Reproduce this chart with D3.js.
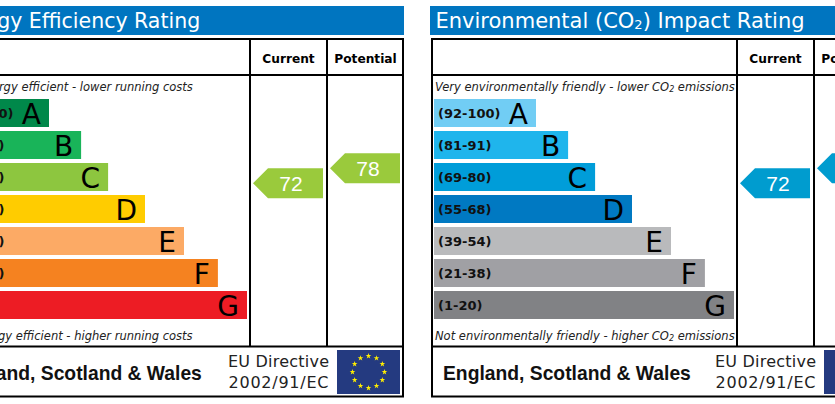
<!DOCTYPE html>
<html>
<head>
<meta charset="utf-8">
<script src="https://cdn.jsdelivr.net/npm/d3@7"></script>
<style>
    html, body { margin: 0; padding: 0; background: #fff; overflow: hidden; }
    svg { display: block; }
    text { font-family: "DejaVu Sans", Verdana, sans-serif; }
    .arial { font-family: "Liberation Sans", Arial, sans-serif; }
</style>
</head>
<body>
<script>
var bands = ["A", "B", "C", "D", "E", "F", "G"];
var ranges = ["(92-100)", "(81-91)", "(69-80)", "(55-68)", "(39-54)", "(21-38)", "(1-20)"];
var barLengths = [34, 44.7, 53.7, 66, 79, 90.3, 100];
var energyColors = ["#00884a", "#19b459", "#8dc63f", "#ffcc00", "#fcaa65", "#f58220", "#ed1c24"];
var co2Colors = ["#71cdf4", "#1fb5ec", "#009dd9", "#0079c2", "#b9babc", "#a0a0a4", "#818285"];
var columns = ["Current", "Potential"];
var energyScores = [72, 78];
var co2Scores = [72, 78];
var starIndex = [0, 1, 2, 3, 4, 5, 6, 7, 8, 9, 10, 11];

var svg = d3.select("body").append("svg")
    .attr("width", 835)
    .attr("height", 404);

var x = d3.scaleLinear().domain([0, 100]).range([3, 303]);
var y = d3.scaleBand().domain(bands).range([99, 319]).paddingInner(0.125);
var scoreY = d3.scaleLinear().domain([72, 78]).range([183.3, 168.3]);
var columnX = d3.scaleBand().domain(columns).range([306, 460]);

drawPanel(-56, {
    title: [["Energy Efficiency Rating"]],
    titleX: 6.5,
    titleSize: 20.5,
    footerX: 10,
    top: [["Very energy efficient - lower running costs"]],
    bottom: [["Not energy efficient - higher running costs"]],
    colors: energyColors,
    scores: energyScores,
    scoreColors: ["#9aca3c", "#9aca3c"]
});

drawPanel(431, {
    title: [["Environmental (CO"], ["2", "sub"], [") Impact Rating"]],
    titleX: 4.5,
    titleSize: 21,
    footerX: 12,
    top: [["Very environmentally friendly - lower CO"], ["2", "sub"], [" emissions"]],
    bottom: [["Not environmentally friendly - higher CO"], ["2", "sub"], [" emissions"]],
    colors: co2Colors,
    scores: co2Scores,
    scoreColors: ["#009ccf", "#009ccf"]
});

function addRuns(sel, runs, small) {
    runs.forEach(function(r) {
        var t = sel.append("tspan").text(r[0]);
        if (r[1] == "sub") t.style("font-size", small + "px").attr("dy", 1);
        else if (sel.selectAll("tspan").size() > 1) t.attr("dy", -1);
    });
}

function drawPanel(left, p) {
    var g = svg.append("g").attr("transform", "translate(" + left + ",0)");

    g.append("rect").attr("x", -1).attr("y", 6).attr("width", 461).attr("height", 29).attr("fill", "#0075c0");
    var title = g.append("text").attr("x", p.titleX).attr("y", 28)
        .attr("fill", "#fff").style("font-size", p.titleSize + "px");
    addRuns(title, p.title, 13);

    // table frame
    var line = g.append("g").attr("stroke", "#000").attr("stroke-width", 2).attr("fill", "none");
    line.append("rect").attr("x", 1).attr("y", 39).attr("width", 458).attr("height", 357.5);
    line.append("line").attr("x1", 1).attr("x2", 459).attr("y1", 75).attr("y2", 75);
    line.append("line").attr("x1", 1).attr("x2", 459).attr("y1", 346.5).attr("y2", 346.5);
    columns.forEach(function(c) {
        line.append("line").attr("x1", columnX(c)).attr("x2", columnX(c)).attr("y1", 39).attr("y2", 346.5);
    });

    g.selectAll(".head").data(columns).enter().append("text")
        .attr("x", function(d) { return columnX(d) + columnX.bandwidth() / 2; })
        .attr("y", 63)
        .attr("text-anchor", "middle")
        .style("font-size", "12.2px").style("font-weight", "bold")
        .text(function(d) { return d; });

    var top = g.append("text").attr("x", 4).attr("y", 91).attr("fill", "#222")
        .style("font-size", "11.5px").style("font-style", "italic");
    addRuns(top, p.top, 8);
    var bottom = g.append("text").attr("x", 4).attr("y", 340).attr("fill", "#222")
        .style("font-size", "11.5px").style("font-style", "italic");
    addRuns(bottom, p.bottom, 8);

    // rating bands
    var row = g.selectAll(".band").data(bands).enter().append("g");
    row.append("rect")
        .attr("x", x(0))
        .attr("y", function(d) { return y(d); })
        .attr("width", function(d, i) { return x(barLengths[i]) - x(0); })
        .attr("height", y.bandwidth())
        .attr("fill", function(d, i) { return p.colors[i]; });
    row.append("text")
        .attr("x", x(0) + 4)
        .attr("y", function(d) { return y(d) + 19; })
        .attr("fill", "#111")
        .style("font-size", "13px").style("font-weight", "bold")
        .text(function(d, i) { return ranges[i]; });
    row.append("text")
        .attr("x", function(d, i) { return x(barLengths[i]) - 8; })
        .attr("y", function(d) { return y(d) + 25; })
        .attr("text-anchor", "end")
        .attr("fill", "#000")
        .style("font-size", "28px")
        .text(function(d) { return d; });

    // score arrows
    var arrowLine = d3.line();
    var arrow = g.selectAll(".score").data(p.scores).enter().append("g");
    arrow.append("path")
        .attr("d", function(d, i) {
            var x0 = columnX(columns[i]) + 3, x1 = x0 + 70, cy = scoreY(d), h = 15;
            return arrowLine([[x0, cy], [x0 + 15, cy - h], [x1, cy - h], [x1, cy + h], [x0 + 15, cy + h]]) + "Z";
        })
        .attr("fill", function(d, i) { return p.scoreColors[i]; });
    arrow.append("text")
        .attr("class", "arial")
        .attr("x", function(d, i) { return columnX(columns[i]) + 41; })
        .attr("y", function(d) { return scoreY(d) + 7.5; })
        .attr("text-anchor", "middle")
        .attr("fill", "#fff")
        .style("font-size", "21px")
        .text(function(d) { return d; });

    // footer
    g.append("text").attr("class", "arial").attr("x", p.footerX).attr("y", 380)
        .attr("fill", "#111")
        .style("font-size", "19.3px").style("font-weight", "bold")
        .text("England, Scotland & Wales");
    g.append("text").attr("x", 334.5).attr("y", 367).attr("text-anchor", "middle")
        .attr("textLength", 101).attr("fill", "#222").style("font-size", "16px").text("EU Directive");
    g.append("text").attr("x", 334.5).attr("y", 388).attr("text-anchor", "middle")
        .attr("textLength", 100).attr("fill", "#222").style("font-size", "16px").text("2002/91/EC");

    // flag
    var flagX = 393, flagY = 350, flagW = 63, flagH = 44;
    g.append("rect").attr("x", flagX).attr("y", flagY).attr("width", flagW).attr("height", flagH).attr("fill", "#243a80");
    var star = d3.symbol().type(d3.symbolStar).size(10);
    var angle = d3.scaleLinear().domain([0, 12]).range([0, 2 * Math.PI]);
    g.selectAll(".star").data(starIndex).enter().append("path")
        .attr("d", star)
        .attr("fill", "#ffed00")
        .attr("transform", function(d) {
            var a = angle(d);
            return "translate(" + (flagX + flagW / 2 + 16 * Math.sin(a)) + "," + (flagY + flagH / 2 - 16 * Math.cos(a)) + ")";
        });
}
</script>
</body>
</html>
